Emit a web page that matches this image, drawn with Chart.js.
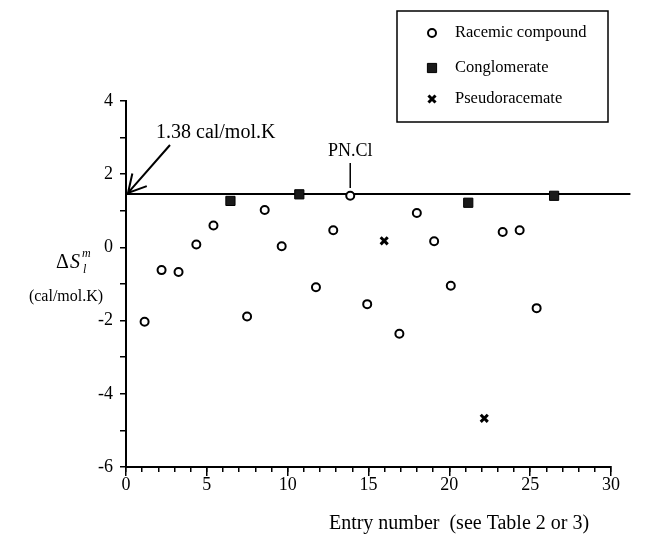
<!DOCTYPE html>
<html>
<head>
<meta charset="utf-8">
<script src="https://cdn.jsdelivr.net/npm/chart.js@4.4.0/dist/chart.umd.min.js"></script>
<style>
  html, body { margin: 0; padding: 0; background: #fff; }
</style>
</head>
<body>
<canvas id="grafico" width="648" height="539"></canvas>
<script>
// valores (posição x como aparece na figura)
const racemicoX = [1.15, 2.2, 3.25, 4.35, 5.41, 7.49, 8.58, 9.63, 11.75, 12.82, 13.87, 14.92, 16.91, 17.99, 19.06, 20.09, 23.3, 24.35, 25.4];
const racemicoY = [-2.03, -0.62, -0.67, 0.08, 0.6, -1.89, 1.02, 0.03, -1.09, 0.47, 1.41, -1.55, -2.36, 0.94, 0.17, -1.05, 0.42, 0.47, -1.66];
const conglomX = [6.46, 10.72, 21.17, 26.48];
const conglomY = [1.27, 1.45, 1.22, 1.41];
const pseudoX = [15.97, 22.16];
const pseudoY = [0.18, -4.67];
const linhaX = [0, 31.2];
const linhaY = [1.46, 1.46];

const nomesSeries = ['Racemic compound', 'Conglomerate', 'Pseudoracemate'];
const textoLinha = '1.38 cal/mol.K';
const textoPN = 'PN.Cl';
const tituloX = 'Entry number  (see Table 2 or 3)';
const unidadeY = '(cal/mol.K)';

const fonte = '"Liberation Serif", "Times New Roman", serif';

function pontos(xs, ys) {
    return xs.map((x, i) => ({ x: x, y: ys[i] }));
}

const estilos = [
    { pointStyle: 'circle', radius: 4, borderWidth: 2, borderColor: '#000', backgroundColor: '#fff' },
    { pointStyle: 'rect', radius: 6.5, borderWidth: 1, borderColor: '#000', backgroundColor: '#1a1a1a' },
    { pointStyle: 'crossRot', radius: 5, borderWidth: 3, borderColor: '#000', backgroundColor: '#000' }
];

const anotacoes = {
    id: 'anotacoes',
    afterDraw(chart) {
        const ctx = chart.ctx;
        const sx = chart.scales.x;
        const sy = chart.scales.y;
        ctx.save();
        ctx.fillStyle = '#000';
        ctx.strokeStyle = '#000';

        // caixa da legenda
        ctx.lineWidth = 1.5;
        ctx.strokeRect(397, 11, 211, 111);
        const linhasY = [33, 68, 99];
        ctx.font = '16.5px ' + fonte;
        ctx.textBaseline = 'middle';
        ctx.textAlign = 'left';
        nomesSeries.forEach((nome, i) => {
            const e = estilos[i];
            ctx.fillStyle = e.backgroundColor;
            ctx.strokeStyle = e.borderColor;
            ctx.lineWidth = e.borderWidth;
            Chart.helpers.drawPoint(ctx, { pointStyle: e.pointStyle, radius: e.radius, borderWidth: e.borderWidth, rotation: 0 }, 432, linhasY[i]);
            ctx.fillStyle = '#000';
            ctx.fillText(nome, 455, linhasY[i]);
        });

        // seta 1.38 cal/mol.K
        ctx.font = '20px ' + fonte;
        ctx.fillText(textoLinha, 156, 133);
        const hx = sx.getPixelForValue(0) + 2;
        const hy = sy.getPixelForValue(linhaY[0]) - 1;
        const tx = 170, ty = 145;
        ctx.lineWidth = 2;
        ctx.beginPath();
        ctx.moveTo(tx, ty);
        ctx.lineTo(hx, hy);
        const ang = Math.atan2(hy - ty, hx - tx);
        const L = 20;
        ctx.moveTo(hx - L * Math.cos(ang - 0.5), hy - L * Math.sin(ang - 0.5));
        ctx.lineTo(hx, hy);
        ctx.lineTo(hx - L * Math.cos(ang + 0.5), hy - L * Math.sin(ang + 0.5));
        ctx.stroke();

        // PN.Cl
        const px = sx.getPixelForValue(racemicoX[10]);
        ctx.font = '18px ' + fonte;
        ctx.textAlign = 'center';
        ctx.fillText(textoPN, px, 151);
        ctx.lineWidth = 1.5;
        ctx.beginPath();
        ctx.moveTo(px, 163);
        ctx.lineTo(px, 188);
        ctx.stroke();

        // título do eixo y
        ctx.textAlign = 'left';
        ctx.textBaseline = 'alphabetic';
        ctx.font = '20px ' + fonte;
        ctx.fillText('\u0394', 56, 268);
        ctx.font = 'italic 20px ' + fonte;
        ctx.fillText('S', 70, 268);
        ctx.font = 'italic 12px ' + fonte;
        ctx.fillText('m', 82, 257);
        ctx.fillText('l', 83, 273);
        ctx.font = '16px ' + fonte;
        ctx.textAlign = 'center';
        ctx.textBaseline = 'middle';
        ctx.fillText(unidadeY, 66, 297);

        // título do eixo x
        ctx.font = '20px ' + fonte;
        ctx.textAlign = 'center';
        ctx.fillText(tituloX, 459, 524);

        ctx.restore();
    }
};

const ctx = document.getElementById('grafico').getContext('2d');

const chart = new Chart(ctx, {
    type: 'scatter',
    data: {
        datasets: [
            Object.assign({ label: nomesSeries[0], data: pontos(racemicoX, racemicoY), order: 0 }, estilos[0]),
            Object.assign({ label: nomesSeries[1], data: pontos(conglomX, conglomY), order: 0 }, estilos[1]),
            Object.assign({ label: nomesSeries[2], data: pontos(pseudoX, pseudoY), order: 0 }, estilos[2]),
            {
                type: 'line',
                label: 'linha',
                data: pontos(linhaX, linhaY),
                borderColor: '#000',
                borderWidth: 2,
                pointRadius: 0,
                clip: false,
                order: 5
            }
        ]
    },
    options: {
        responsive: false,
        animation: false,
        layout: { padding: { top: 101, right: 37, left: 0, bottom: 0 } },
        plugins: {
            legend: { display: false },
            tooltip: { enabled: false }
        },
        scales: {
            x: {
                type: 'linear',
                position: 'bottom',
                min: 0,
                max: 30,
                weight: 0,
                ticks: { stepSize: 1, autoSkip: false, callback: () => '' },
                grid: { drawOnChartArea: false, tickLength: 5, color: '#000', lineWidth: 1.5 },
                border: { color: '#000', width: 2 },
                afterFit: (s) => { s.height = 0; }
            },
            xMaior: {
                type: 'linear',
                position: 'bottom',
                min: 0,
                max: 30,
                weight: 1,
                ticks: { stepSize: 5, autoSkip: false, color: '#000', padding: -2, font: { family: fonte, size: 18 } },
                grid: { drawOnChartArea: false, tickLength: 9, color: '#000', lineWidth: 1.5 },
                border: { color: '#000', width: 2 },
                afterFit: (s) => { s.height = 72; }
            },
            y: {
                min: -6,
                max: 4,
                ticks: {
                    stepSize: 1,
                    autoSkip: false,
                    color: '#000',
                    padding: 7,
                    font: { family: fonte, size: 18 },
                    callback: (v) => (v % 2 === 0 ? v : '')
                },
                grid: { drawOnChartArea: false, tickLength: 6, color: '#000', lineWidth: 1.5 },
                border: { color: '#000', width: 2 },
                afterFit: (s) => { s.width = 126; }
            }
        }
    },
    plugins: [anotacoes]
});
</script>
</body>
</html>
